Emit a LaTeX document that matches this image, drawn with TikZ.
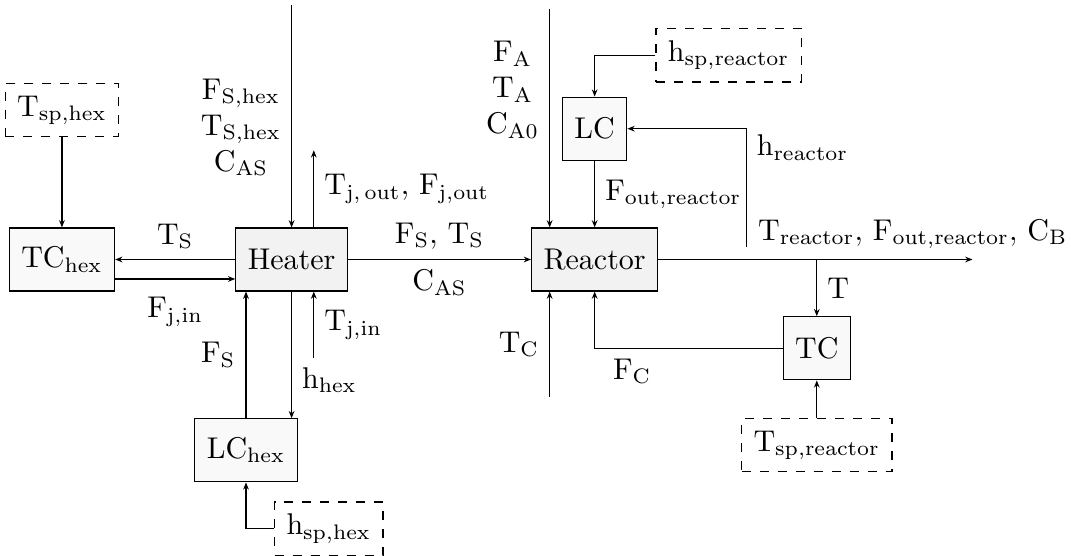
\documentclass[tikz,border=0pt]{standalone}
\usepackage{amsmath}
\usepackage{tikz}
\usetikzlibrary{arrows.meta, positioning}

\begin{document}
\begin{tikzpicture}[
    node distance=1.5cm,
    unit/.style={rectangle, draw=black, minimum height=21pt, inner sep=4pt, fill=gray!10},
    ctrl/.style={rectangle, draw=black, minimum height=21pt, inner sep=4pt, fill=gray!5},
    setpt/.style={rectangle, draw=black, dashed, inner sep=4pt},
    arrow/.style={-{Stealth[length=2.4pt, width=1.9pt]}}
]
    \useasboundingbox (-97.2pt,-98.8pt) rectangle (259.8pt,86.5pt);

    % Nodes
    \node[unit] (heater) at (0,0) {Heater};
    \node[ctrl] (tchex) [left=40pt of heater] {$\mathrm{TC_{hex}}$};
    \node[setpt] (tsphex) [above=30pt of tchex] {$\mathrm{T_{sp,hex}}$};
    \node[ctrl] (lchex) [below=42.2pt of heater, xshift=-15.2pt] {$\mathrm{LC_{hex}}$};
    \node[setpt] (hsphex) [below=6.3pt of lchex, xshift=27.6pt] {$\mathrm{h_{sp,hex}}$};

    \node[unit] (reactor) [right=61pt of heater] {Reactor};
    \node[ctrl] (lc) [above=22.2pt of reactor] {LC};
    \node[setpt] (hspreactor) [above right=4.7pt and 9.3pt of lc] {$\mathrm{h_{sp,reactor}}$};
    \node[ctrl] (tc) [below right=8.2pt and 41.4pt of reactor] {TC};
    \node[setpt] (tspreactor) [below=12.6pt of tc] {$\mathrm{T_{sp,reactor}}$};

    % Free ends
    \coordinate[above=74.2pt of heater.north] (hexfeed);
    \coordinate (tjout) at ([xshift=7.4pt, yshift=25.7pt]heater.north);
    \coordinate (tjin) at ([xshift=7.4pt, yshift=-22.2pt]heater.south);
    \coordinate (rfeed) at ([xshift=-15pt, yshift=72.9pt]reactor.north);
    \coordinate (tcin) at ([xshift=-15pt, yshift=-35.1pt]reactor.south);
    \coordinate (hlevel) at ([xshift=29.3pt, yshift=-6.4pt]reactor.north east);
    \coordinate (product) at ([xshift=104.7pt]reactor.east);

    % Arrows
    \draw[arrow] (hexfeed) -- node[left, pos=0.55, align=center] {$\mathrm{F_{S,hex}}$\\ $\mathrm{T_{S,hex}}$\\ $\mathrm{C_{AS}}$} (heater.north);
    \draw[arrow] ([xshift=7.4pt]heater.north) -- node[right] {$\mathrm{T_{j,\,out},\,F_{j,out}}$} (tjout);
    \draw[arrow] (heater.west) -- node[above] {$\mathrm{T_S}$} (tchex.east);
    \draw[arrow] ([yshift=-6.5pt]tchex.east) -- node[below, yshift=-2.5pt] {$\mathrm{F_{j,in}}$} ([yshift=-6.5pt]heater.west);
    \draw[arrow] (heater.east) -- node[above] {$\mathrm{F_S,\,T_S}$} node[below] {$\mathrm{C_{AS}}$} (reactor.west);
    \draw[arrow] (tsphex) -- (tchex);

    \draw[arrow] (lchex.north) -- node[left] {$\mathrm{F_S}$} (lchex.north |- heater.south);
    \draw[arrow] (heater.south) -- node[right, pos=0.7] {$\mathrm{h_{hex}}$} (heater.south |- lchex.north);
    \draw[arrow] (tjin) -- node[right] {$\mathrm{T_{j,in}}$} ([xshift=7.4pt]heater.south);
    \draw[arrow] (hsphex.west) -| (lchex.south);

    \draw[arrow] (rfeed) -- node[left, pos=0.37, align=center] {$\mathrm{F_A}$\\ $\mathrm{T_A}$\\ $\mathrm{C_{A0}}$} ([xshift=-15pt]reactor.north);
    \draw[arrow] (hspreactor.west) -| (lc.north);
    \draw[arrow] (lc) -- node[right] {$\mathrm{F_{out,reactor}}$} (reactor);
    \draw[arrow] (hlevel) |- node[right, pos=0.42] {$\mathrm{h_{reactor}}$} (lc.east);
    \draw[arrow] (reactor.east) -- node[above, pos=0.81] {$\mathrm{T_{reactor},\,F_{out,reactor},\,C_B}$} (product);
    \draw[arrow] (tc.north |- reactor.east) -- node[right] {$\mathrm{T}$} (tc.north);
    \draw[arrow] (tspreactor) -- (tc);
    \draw[arrow] (tc.west) -| node[below, pos=0.4] {$\mathrm{F_C}$} (reactor.south);
    \draw[arrow] (tcin) -- node[left] {$\mathrm{T_C}$} ([xshift=-15pt]reactor.south);
\end{tikzpicture}
\end{document}
